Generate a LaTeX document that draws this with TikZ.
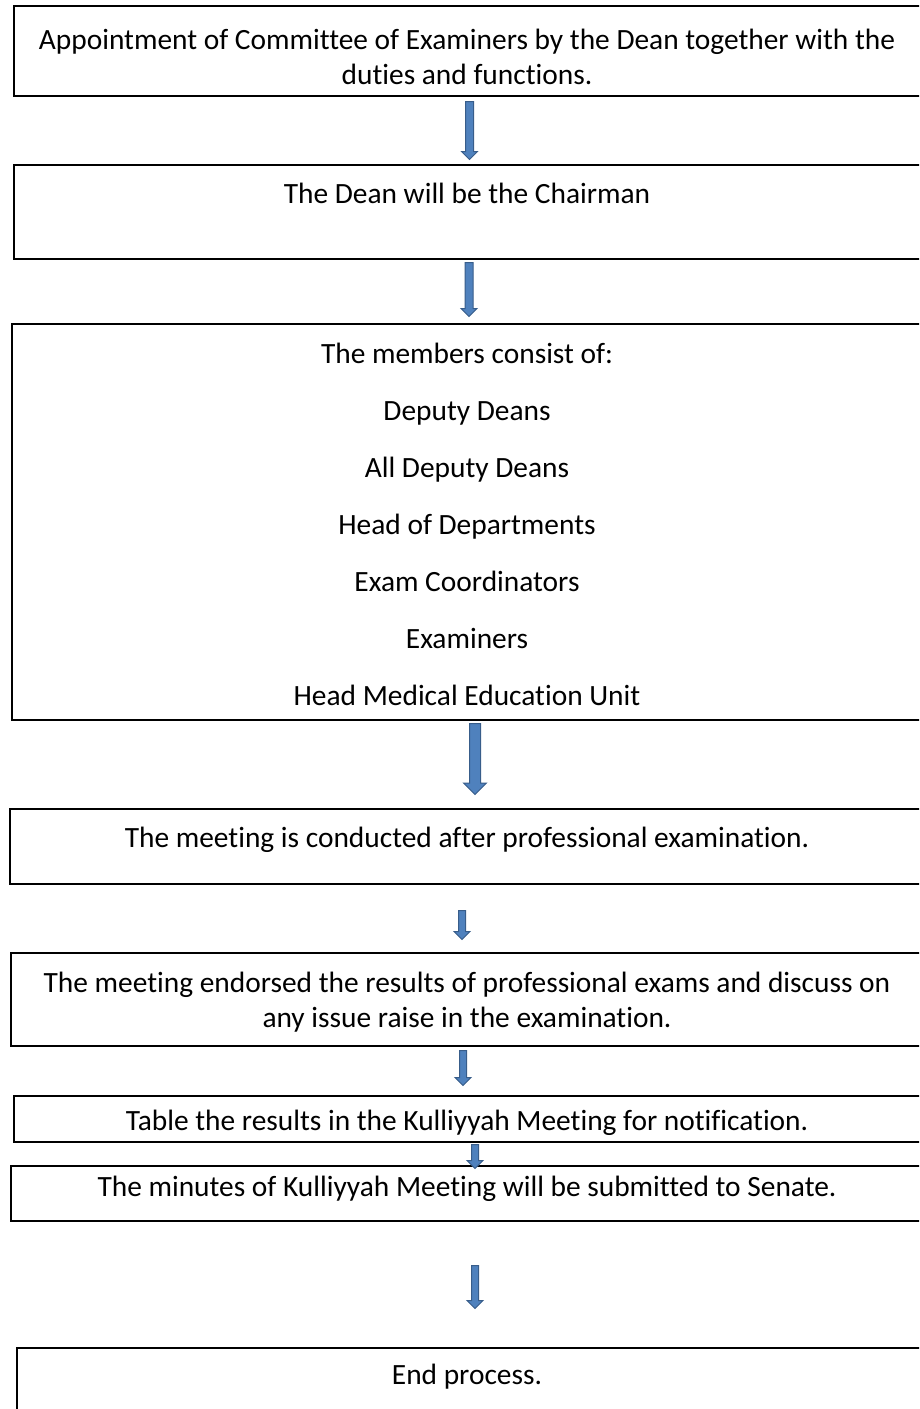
\documentclass[tikz,border=0pt]{standalone}
\usepackage{fontspec}
\setmainfont{Carlito}[RawFeature={-liga;-clig;-calt;-rlig;-dlig}]
\usetikzlibrary{shapes.arrows}
\definecolor{arrowfill}{HTML}{4F81BD}
\definecolor{arrowline}{HTML}{385D8A}
\tikzset{
  box/.style={draw=black, line width=2pt, rectangle, inner sep=0pt, anchor=north west},
  txt/.style={inner sep=0pt, anchor=base, font=\fontsize{29.4}{35}\selectfont},
  blockarrow/.style 2 args={single arrow, draw=arrowline, fill=arrowfill, line width=1pt,
    inner sep=#1, single arrow head extend=#2, minimum width=0pt, rotate=-90, anchor=tail},
}
\begin{document}
\begin{tikzpicture}[x=1pt, y=-1pt]
\useasboundingbox (0,0) rectangle (919,1409);
\clip (0,0) rectangle (919,1409);
\fill[white] (0,0) rectangle (919,1409);

% boxes
\node[box, minimum width=908pt, minimum height=90pt] (b1) at (13,5) {};
\node[box, minimum width=908pt, minimum height=94pt] (b2) at (13,164) {};
\node[box, minimum width=912pt, minimum height=396pt] (b3) at (11,323) {};
\node[box, minimum width=916pt, minimum height=75pt] (b4) at (9,808) {};
\node[box, minimum width=914pt, minimum height=93pt] (b5) at (10,952) {};
\node[box, minimum width=908pt, minimum height=46pt] (b6) at (13,1095) {};
\node[box, minimum width=914pt, minimum height=55pt] (b7) at (10,1165) {};
\node[box, minimum width=906pt, minimum height=80pt] (b8) at (16,1347) {};

% texts
\node[txt] (t1a) at (467,49) {Appointment of Committee of Examiners by the Dean together with the};
\node[txt] (t1b) at (467,84) {duties and functions.};
\node[txt] (t2) at (467,203) {The Dean will be the Chairman};
\node[txt] (t3a) at (467,363) {The members consist of:};
\node[txt] (t3b) at (467,420) {Deputy Deans};
\node[txt] (t3c) at (467,477) {All Deputy Deans};
\node[txt] (t3d) at (467,534) {Head of Departments};
\node[txt] (t3e) at (467,591) {Exam Coordinators};
\node[txt] (t3f) at (467,648) {Examiners};
\node[txt] (t3g) at (467,705) {Head Medical Education Unit};
\node[txt] (t4) at (467,847) {The meeting is conducted after professional examination.};
\node[txt] (t5a) at (467,992) {The meeting endorsed the results of professional exams and discuss on};
\node[txt] (t5b) at (467,1027) {any issue raise in the examination.};
\node[txt] (t6) at (467,1130) {Table the results in the Kulliyyah Meeting for notification.};
\node[txt] (t7) at (467,1196) {The minutes of Kulliyyah Meeting will be submitted to Senate.};
\node[txt] (t8) at (467,1384) {End process.};

% block arrows between the steps
\node[blockarrow={3.5pt}{4pt}, minimum height=58pt] (a1) at (469.5,101) {};
\node[blockarrow={3.5pt}{4pt}, minimum height=54pt] (a2) at (469,262) {};
\node[blockarrow={5pt}{6pt}, minimum height=71pt] (a3) at (475,723) {};
\node[blockarrow={3pt}{4.5pt}, minimum height=29pt] (a4) at (462,910) {};
\node[blockarrow={3pt}{4.5pt}, minimum height=35pt] (a5) at (463,1050) {};
\node[blockarrow={3pt}{4.5pt}, minimum height=24pt] (a6) at (475,1144) {};
\node[blockarrow={3pt}{4.5pt}, minimum height=43pt] (a7) at (475,1265) {};
\end{tikzpicture}
\end{document}
